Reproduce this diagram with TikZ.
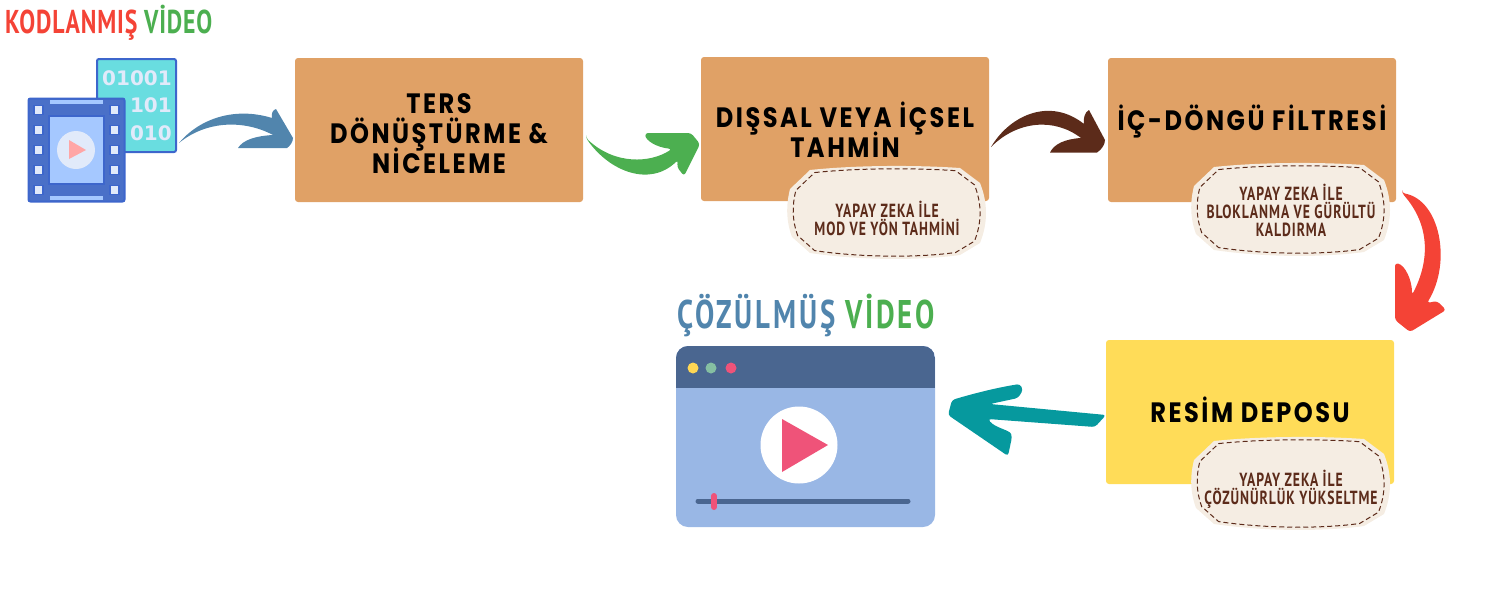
\documentclass[tikz,border=0pt]{standalone}
\usepackage{fontspec}
\usepackage{xcolor}
\usetikzlibrary{calc}
\newfontfamily\boxfont[LetterSpace=9,FakeStretch=.86]{Poppins}
\newfontfamily\inkfont[FakeStretch=.72]{PT Sans}
\newfontfamily\codefont{DejaVu Sans}
\lineskiplimit=-30pt
\definecolor{boxorange}{RGB}{224,161,102}
\definecolor{boxyellow}{RGB}{255,220,88}
\definecolor{badgecream}{RGB}{245,237,227}
\definecolor{inkbrown}{RGB}{92,43,26}
\definecolor{inkblue}{RGB}{81,133,173}
\definecolor{inkgreen}{RGB}{76,175,80}
\definecolor{inkred}{RGB}{244,67,54}
\definecolor{inkteal}{RGB}{6,153,158}
\definecolor{filmblue}{RGB}{61,102,204}
\definecolor{filmdark}{RGB}{74,112,200}
\definecolor{filmlight}{RGB}{165,200,255}
\definecolor{filmpale}{RGB}{225,234,250}
\definecolor{filmcyan}{RGB}{105,221,224}
\definecolor{winbar}{RGB}{74,102,144}
\definecolor{winbody}{RGB}{153,183,229}
\definecolor{winpink}{RGB}{239,83,121}
\tikzset{
  procbox/.style={rectangle,rounded corners=3pt,minimum width=288pt,minimum height=144pt,inner sep=0pt,outer sep=0pt},
  proctext/.style={font=\boxfont\bfseries\fontsize{28}{30}\selectfont,align=center,inner sep=0pt,text=black},
  notetext/.style={font=\inkfont\bfseries\addfontfeatures{LetterSpace=5}\fontsize{19}{18}\selectfont,align=center,inner sep=0pt,text=inkbrown},
  titletext/.style={inner sep=0pt,anchor=base west},
  badge/.pic={
    \fill[badgecream] (-77,-43) .. controls (-30,-48) and (30,-48) .. (73,-45) -- (93,-30) .. controls (101,-10) and (101,10) .. (93,30) -- (73,42) .. controls (30,48) and (-30,47) .. (-77,40) -- (-95,24) .. controls (-101,8) and (-101,-8) .. (-97,-24) -- cycle;
    \draw[inkbrown,line width=1pt,dash pattern=on 5pt off 3pt,scale=.94] (-77,-43) .. controls (-30,-48) and (30,-48) .. (73,-45) -- (93,-30) .. controls (101,-10) and (101,10) .. (93,30) -- (73,42) .. controls (30,48) and (-30,47) .. (-77,40) -- (-95,24) .. controls (-101,8) and (-101,-8) .. (-97,-24) -- cycle;
  }
}
\begin{document}
\begin{tikzpicture}[x=1pt,y=-1pt]
    \useasboundingbox (0,0) rectangle (1500,600);

    % Titoli
    \node[titletext,font=\inkfont\bfseries\addfontfeatures{LetterSpace=2.5}\fontsize{33}{33}\selectfont] (encodedtitle) at (5,33) {\textcolor{inkred}{KODLANMIŞ} \textcolor{inkgreen}{VİDEO}};
    \node[titletext,font=\inkfont\bfseries\addfontfeatures{LetterSpace=7}\fontsize{40}{40}\selectfont] (decodedtitle) at (677,328) {\textcolor{inkblue}{ÇÖZÜLMÜŞ} \textcolor{inkgreen}{VİDEO}};

    % Icona video codificato
    \node[rectangle,draw=filmblue,fill=filmcyan,line width=2pt,rounded corners=2pt,minimum width=79pt,minimum height=93pt,inner sep=0pt,outer sep=0pt] (binary) at (136.5,105.5) {};
    \node[anchor=base east,inner sep=0pt,text=filmpale,font=\codefont\bfseries\fontsize{20}{20}\selectfont] (bitsA) at (172,85) {01001};
    \node[anchor=base east,inner sep=0pt,text=filmpale,font=\codefont\bfseries\fontsize{20}{20}\selectfont] (bitsB) at (172,112) {101};
    \node[anchor=base east,inner sep=0pt,text=filmpale,font=\codefont\bfseries\fontsize{20}{20}\selectfont] (bitsC) at (172,140) {010};
    \node[rectangle,draw=filmblue,fill=filmdark,line width=2pt,rounded corners=2pt,minimum width=96pt,minimum height=103pt,inner sep=0pt,outer sep=0pt] (film) at (76.5,150) {};
    \draw[filmblue,fill=filmlight,line width=2pt] (49,116) rectangle (104,184);
    \fill[filmlight] (50,100) rectangle (103,104);
    \fill[filmlight] (50,196) rectangle (103,200);
    \foreach \holey in {110,130,150,170,190} {
        \draw[filmblue,fill=filmpale,line width=1.5pt] (34,\holey-4.5) rectangle (43,\holey+4.5);
        \draw[filmblue,fill=filmpale,line width=1.5pt] (110,\holey-4.5) rectangle (119,\holey+4.5);
    }
    \fill[filmpale] (76,150) circle (19pt);
    \fill[red!35!white] (69,140) -- (86,150) -- (69,159) -- cycle;

    % Box
    \node[procbox,fill=boxorange] (inverse) at (439,130) {};
    \node[proctext] (inversetext) at (439,134) {TERS\\DÖNÜŞTÜRME \&\\NİCELEME};
    \node[procbox,fill=boxorange] (predict) at (845,129) {};
    \node[proctext] (predicttext) at (845,130) {DIŞSAL VEYA İÇSEL\\TAHMİN};
    \node[procbox,fill=boxorange] (loopf) at (1252,130) {};
    \node[proctext] (loopftext) at (1252,122) {İÇ-DÖNGÜ FİLTRESİ};
    \node[procbox,fill=boxyellow] (store) at (1250,412) {};
    \node[proctext] (storetext) at (1250,410) {RESİM DEPOSU};

    % Note
    \pic at (887,213) {badge};
    \node[notetext] (predictnote) at (887,218) {YAPAY ZEKA İLE\\MOD VE YÖN TAHMİNİ};
    \pic at (1291,210) {badge};
    \node[notetext] (loopfnote) at (1291,210) {YAPAY ZEKA İLE\\BLOKLANMA VE GÜRÜLTÜ\\KALDIRMA};
    \pic at (1291,484) {badge};
    \node[notetext] (storenote) at (1291,489) {YAPAY ZEKA İLE\\ÇÖZÜNÜRLÜK YÜKSELTME};

    % Player
    \node[rectangle,fill=winbody,rounded corners=12pt,minimum width=259pt,minimum height=181pt,inner sep=0pt,outer sep=0pt] (player) at (805.5,436.5) {};
    \begin{scope}
        \clip[rounded corners=12pt] (player.south west) rectangle (player.north east);
        \fill[winbar] (676,346) rectangle (935,388);
    \end{scope}
    \fill[boxyellow!95!orange] (693,368) circle (5.5pt);
    \fill[green!30!winbar!60!white] (711,368) circle (5.5pt);
    \fill[winpink] (731,368) circle (5.5pt);
    \fill[white] (799,445) circle (38.5pt);
    \fill[winpink] (782,419) -- (828,445) -- (782,472) -- cycle;
    \draw[winbar,line width=5pt,line cap=round] (698,501) -- (908,501);
    \draw[winpink,line width=6pt,line cap=round] (714,496) -- (714,507);

    % Frecce
    \fill[inkblue] ($(binary.east)+(3,37.5)$) .. controls (198,120) and (233,106) .. (272,118) .. controls (271,113) and (273,110) .. (276,109) -- ($(inverse.west)+(-2,8)$) .. controls (293,142) and (290,146) .. (287,148) -- (238,148) .. controls (243,140) and (255,136) .. (273,135) .. controls (245,120) and (207,120) .. ($(binary.east)+(3,37.5)$) -- cycle;
    \fill[inkgreen,rounded corners=3pt] ($(inverse.east)+(3,8)$) .. controls (610,172) and (650,187) .. (678,160) -- (677,167) -- (684,176) -- ($(predict.west)+(-1,15)$) -- (691,133) -- (645,133) .. controls (646,140) and (655,147) .. (672,149) .. controls (650,163) and (615,165) .. ($(inverse.east)+(3,8)$) -- cycle;
    \fill[inkbrown] ($(predict.east)+(2,18)$) .. controls (1010,115) and (1050,97) .. (1084,124) .. controls (1083,118) and (1085,112) .. (1089,110) -- ($(loopf.west)+(-3,10)$) .. controls (1105,145) and (1101,150) .. (1097,152.5) -- (1050,152.5) .. controls (1054,144) and (1065,139) .. (1081,138) .. controls (1055,118) and (1018,120) .. ($(predict.east)+(2,18)$) -- cycle;
    \fill[inkred,rounded corners=3pt] ($(loopf.south east)+(6,-9)$) .. controls (1440,200) and (1452,262) .. (1427,303) -- (1437,301) -- (1446,310) -- ($(store.north east)+(16,-8)$) -- (1395,320) -- (1395,263) .. controls (1405,265) and (1412,280) .. (1412,295) .. controls (1430,260) and (1430,225) .. ($(loopf.south east)+(6,-9)$) -- cycle;
    \fill[inkteal,rounded corners=3pt] ($(store.west)+(0,3)$) -- (1095,427) -- (988,419) .. controls (995,428) and (1010,430) .. (1012,437) -- (1008,456) -- ($(player.east)+(13,-21.5)$) -- (952,400) .. controls (975,393) and (1000,387) .. (1020,384) -- (1023,390) -- (1018,398) -- (990,404) -- cycle;
\end{tikzpicture}
\end{document}
